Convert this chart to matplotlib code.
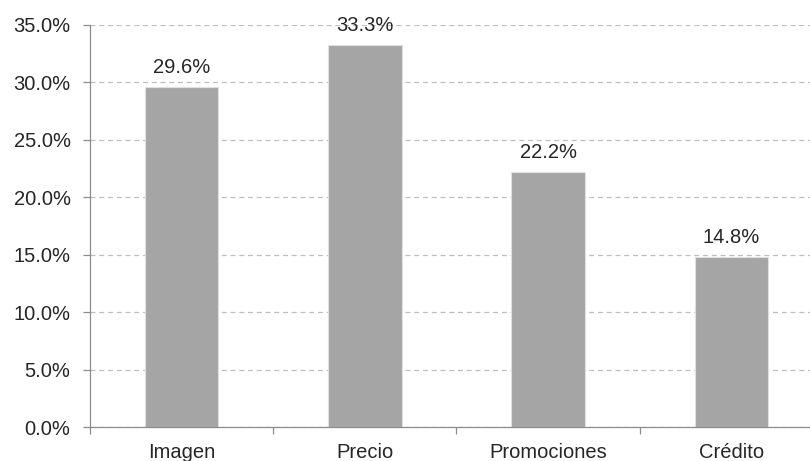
import matplotlib
matplotlib.use("Agg")
import matplotlib.pyplot as plt
from matplotlib.ticker import FuncFormatter, FixedLocator

plt.rcParams['font.family'] = ['Liberation Sans', 'DejaVu Sans']

# Share of responses per factor (%)
categories = ["Imagen", "Precio", "Promociones", "Crédito"]
shares = [29.6, 33.3, 22.2, 14.8]
y_ticks = [0, 5, 10, 15, 20, 25, 30, 35]

text_color = "#262626"
axis_color = "#8C8C8C"
font_size = 14.5

fig = plt.figure(figsize=(8.10, 4.61), dpi=100)
# plot area runs a little past the right edge of the canvas
ax = fig.add_axes([90 / 810, 34 / 461, 733 / 810, 402 / 461])

x = range(len(categories))
bars = ax.bar(x, shares, width=0.4, color="#A5A5A5",
              edgecolor="#E0E0E0", linewidth=0.8, zorder=3)

for bar, v in zip(bars, shares):
    ax.annotate(f"{v:.1f}%", (bar.get_x() + bar.get_width() / 2, v),
                xytext=(0, 7), textcoords="offset points",
                ha="center", va="bottom", fontsize=font_size, color=text_color)

ax.set_xlim(-0.5, len(categories) - 0.5)
ax.set_ylim(0, 35)

# y axis: percent labels, dashed grid
ax.yaxis.set_major_locator(FixedLocator(y_ticks))
ax.yaxis.set_major_formatter(FuncFormatter(lambda v, _: f"{v:.1f}%"))
ax.grid(axis="y", color="#BFBFBF", linestyle=(0, (4, 3)), linewidth=0.9, zorder=0)
ax.tick_params(axis="y", direction="out", length=5, width=0.9, color=axis_color,
               pad=9, labelsize=font_size, labelcolor=text_color)

# x axis: labels centred, tick marks between categories
ax.set_xticks(list(x))
ax.set_xticklabels(categories)
ax.set_xticks([i - 0.5 for i in range(len(categories) + 1)], minor=True)
ax.tick_params(axis="x", which="major", length=0, pad=11.5,
               labelsize=font_size, labelcolor=text_color)
ax.tick_params(axis="x", which="minor", direction="out", length=5, width=0.9,
               color=axis_color)

for side in ("top", "right"):
    ax.spines[side].set_visible(False)
for side in ("left", "bottom"):
    ax.spines[side].set_color(axis_color)
    ax.spines[side].set_linewidth(0.9)
    ax.spines[side].set_zorder(4)

fig.savefig("out.png", dpi=100, facecolor="white")
